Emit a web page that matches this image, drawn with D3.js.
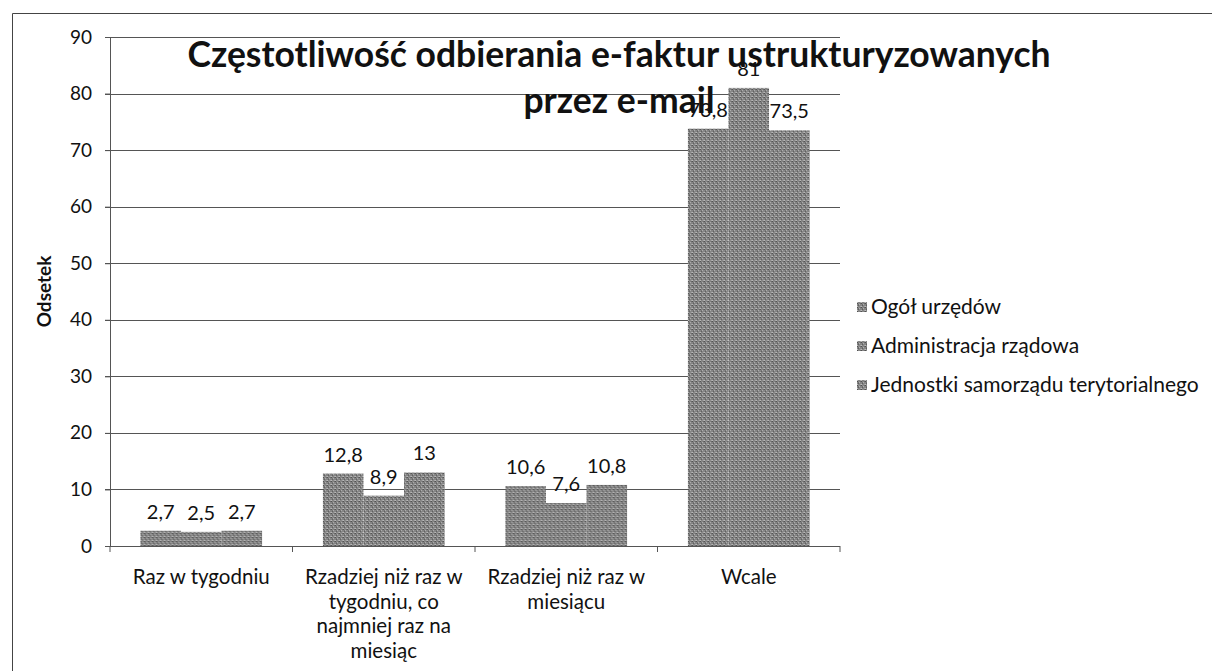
<!DOCTYPE html>
<html>
<head>
<meta charset="utf-8">
<script src="https://cdn.jsdelivr.net/npm/d3@7"></script>
<style>
  body { margin: 0; background: #fff; }
  text { font-family: Lato, "Noto Sans", sans-serif; fill: #111; }
</style>
</head>
<body>
<div id="chart"></div>
<script>
// data
var categories = ["Raz w tygodniu",
  "Rzadziej niż raz w tygodniu, co najmniej raz na miesiąc",
  "Rzadziej niż raz w miesiącu",
  "Wcale"];
var categoryLines = [["Raz w tygodniu"],
  ["Rzadziej niż raz w", "tygodniu, co", "najmniej raz na", "miesiąc"],
  ["Rzadziej niż raz w", "miesiącu"],
  ["Wcale"]];
var seriesNames = ["Ogół urzędów", "Administracja rządowa", "Jednostki samorządu terytorialnego"];
var ogol = [2.7, 12.8, 10.6, 73.8];
var admin = [2.5, 8.9, 7.6, 81];
var jst = [2.7, 13, 10.8, 73.5];
var yTicks = [0, 10, 20, 30, 40, 50, 60, 70, 80, 90];

var seriesValues = [ogol, admin, jst];

var W = 1212, H = 671;
var margin = {top: 37, right: 372, bottom: 125, left: 110},
    width = W - margin.left - margin.right,
    height = H - margin.top - margin.bottom;

var svg = d3.select("#chart").append("svg")
  .attr("width", W)
  .attr("height", H);

// scan-like grey texture for the bars
var defs = svg.append("defs");
var pat = defs.append("pattern")
  .attr("id", "grain")
  .attr("patternUnits", "userSpaceOnUse")
  .attr("width", 4).attr("height", 4);
pat.append("rect").attr("width", 4).attr("height", 4).attr("fill", "#868686");
[[0,0,"#505050"],[2,1,"#b0b0b0"],[1,2,"#5e5e5e"],[3,3,"#a4a4a4"],[3,0,"#6c6c6c"],[0,3,"#bcbcbc"],[1,1,"#707070"]].forEach(function(p) {
  pat.append("rect").attr("x", p[0]).attr("y", p[1]).attr("width", 1).attr("height", 1).attr("fill", p[2]);
});

// outer frame of the scanned page
svg.append("path")
  .attr("d", "M12.5," + H + "V13.5H" + W)
  .attr("fill", "none")
  .attr("stroke", "#444")
  .attr("stroke-width", 1);

var g = svg.append("g")
  .attr("transform", "translate(" + margin.left + "," + margin.top + ")");

var x0 = d3.scaleBand()
  .domain(categories)
  .range([0, width])
  .paddingInner(1 / 3)
  .paddingOuter(1 / 6);
var x1 = d3.scaleBand()
  .domain(d3.range(seriesNames.length))
  .range([0, x0.bandwidth()]);
var y = d3.scaleLinear()
  .domain([0, 90])
  .range([height, 0]);

// gridlines
g.append("g")
  .selectAll("line")
  .data(yTicks.filter(function(d) { return d > 0; }))
  .enter().append("line")
  .attr("x1", -5)
  .attr("x2", width)
  .attr("y1", function(d) { return Math.round(y(d)) + 0.5; })
  .attr("y2", function(d) { return Math.round(y(d)) + 0.5; })
  .attr("stroke", "#555");

// bars
var groups = g.selectAll(".grp")
  .data(categories)
  .enter().append("g")
  .attr("class", "grp")
  .attr("transform", function(d) { return "translate(" + x0(d) + ",0)"; });

groups.selectAll("rect")
  .data(function(d, i) { return seriesValues.map(function(s, k) { return {k: k, v: s[i]}; }); })
  .enter().append("rect")
  .attr("x", function(d) { return x1(d.k); })
  .attr("width", x1.bandwidth())
  .attr("y", function(d) { return y(d.v); })
  .attr("height", function(d) { return height - y(d.v); })
  .attr("fill", "url(#grain)");

// y axis
var yAxis = g.append("g")
  .call(d3.axisLeft(y).tickValues(yTicks).tickSize(5).tickPadding(13));
yAxis.select(".domain").attr("stroke", "#555");
yAxis.selectAll(".tick line").attr("stroke", "#555");
yAxis.selectAll("text").style("font-size", "19px").attr("fill", "#111");

// x axis
var xAxis = g.append("g")
  .attr("transform", "translate(0," + height + ")");
xAxis.append("line")
  .attr("x1", -5).attr("x2", width)
  .attr("y1", 0.5).attr("y2", 0.5)
  .attr("stroke", "#555");
xAxis.selectAll(".xt")
  .data(d3.range(categories.length + 1))
  .enter().append("line")
  .attr("x1", function(i) { return i * x0.step(); })
  .attr("x2", function(i) { return i * x0.step(); })
  .attr("y1", 0).attr("y2", 6)
  .attr("stroke", "#555");
xAxis.selectAll(".xl")
  .data(categories)
  .enter().append("text")
  .attr("text-anchor", "middle")
  .attr("x", function(d) { return x0(d) + x0.bandwidth() / 2; })
  .attr("y", 38)
  .style("font-size", "20.5px")
  .each(function(d, i) {
    var t = d3.select(this);
    categoryLines[i].forEach(function(line, j) {
      t.append("tspan")
        .attr("x", x0(d) + x0.bandwidth() / 2)
        .attr("dy", j === 0 ? 0 : 24.5)
        .text(line);
    });
  });

// y axis title
svg.append("text")
  .attr("transform", "translate(51," + (margin.top + height / 2) + ") rotate(-90)")
  .attr("text-anchor", "middle")
  .style("font-size", "19px")
  .style("font-weight", "bold")
  .text("Odsetek");

// value labels
groups.selectAll(".lbl")
  .data(function(d, i) { return seriesValues.map(function(s, k) { return {k: k, v: s[i]}; }); })
  .enter().append("text")
  .attr("text-anchor", "middle")
  .attr("x", function(d) { return x1(d.k) + x1.bandwidth() / 2; })
  .attr("y", function(d) { return y(d.v) - 12; })
  .style("font-size", "20px")
  .text(function(d) { return String(d.v).replace(".", ","); });

// title
var title = svg.append("text")
  .attr("text-anchor", "middle")
  .style("font-size", "35.5px")
  .style("font-weight", "bold");
title.append("tspan").attr("x", 619).attr("y", 67).text("Częstotliwość odbierania e-faktur ustrukturyzowanych");
title.append("tspan").attr("x", 619).attr("y", 113).text("przez e-mail");

// legend
var legend = svg.append("g")
  .attr("transform", "translate(857,307)");
var li = legend.selectAll("g")
  .data(seriesNames)
  .enter().append("g")
  .attr("transform", function(d, i) { return "translate(0," + (i * 39) + ")"; });
li.append("rect")
  .attr("x", 0).attr("y", -5)
  .attr("width", 10).attr("height", 10)
  .attr("fill", "url(#grain)");
li.append("text")
  .attr("x", 14)
  .attr("y", 7)
  .style("font-size", "21px")
  .text(function(d) { return d; });
</script>
</body>
</html>
